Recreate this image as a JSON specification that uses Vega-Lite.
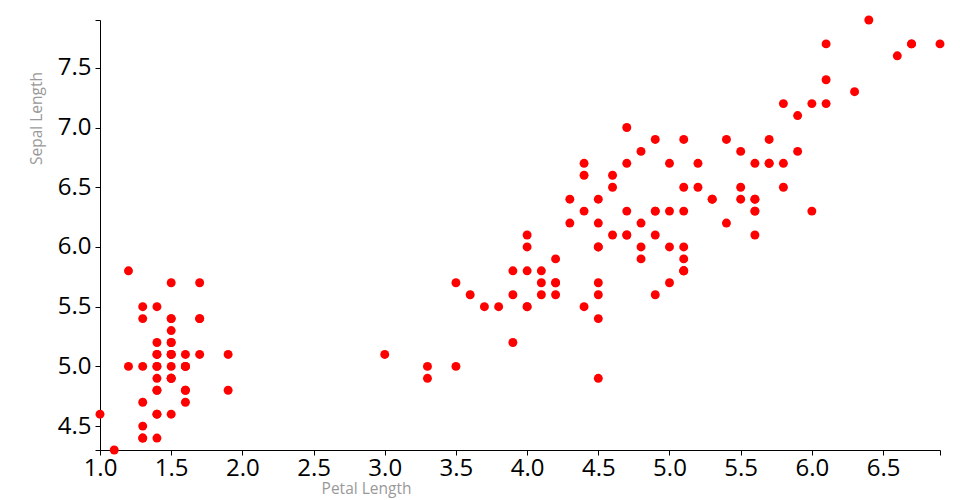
{
  "$schema": "https://vega.github.io/schema/vega-lite/v6.json",
  "width": 840,
  "height": 430,
  "autosize": "none",
  "padding": {"left": 100, "top": 20, "right": 20, "bottom": 50},
  "background": "white",
  "config": {"view": {"stroke": null}, "font": "Open Sans"},
  "data": {"values": [
    {"sl":5.1,"pl":1.4},{"sl":4.9,"pl":1.4},{"sl":4.7,"pl":1.3},{"sl":4.6,"pl":1.5},{"sl":5.0,"pl":1.4},
    {"sl":5.4,"pl":1.7},{"sl":4.6,"pl":1.4},{"sl":5.0,"pl":1.5},{"sl":4.4,"pl":1.4},{"sl":4.9,"pl":1.5},
    {"sl":5.4,"pl":1.5},{"sl":4.8,"pl":1.6},{"sl":4.8,"pl":1.4},{"sl":4.3,"pl":1.1},{"sl":5.8,"pl":1.2},
    {"sl":5.7,"pl":1.5},{"sl":5.4,"pl":1.3},{"sl":5.1,"pl":1.4},{"sl":5.7,"pl":1.7},{"sl":5.1,"pl":1.5},
    {"sl":5.4,"pl":1.7},{"sl":5.1,"pl":1.5},{"sl":4.6,"pl":1.0},{"sl":5.1,"pl":1.7},{"sl":4.8,"pl":1.9},
    {"sl":5.0,"pl":1.6},{"sl":5.0,"pl":1.6},{"sl":5.2,"pl":1.5},{"sl":5.2,"pl":1.4},{"sl":4.7,"pl":1.6},
    {"sl":4.8,"pl":1.6},{"sl":5.4,"pl":1.5},{"sl":5.2,"pl":1.5},{"sl":5.5,"pl":1.4},{"sl":4.9,"pl":1.5},
    {"sl":5.0,"pl":1.2},{"sl":5.5,"pl":1.3},{"sl":4.9,"pl":1.5},{"sl":4.4,"pl":1.3},{"sl":5.1,"pl":1.5},
    {"sl":5.0,"pl":1.3},{"sl":4.5,"pl":1.3},{"sl":4.4,"pl":1.3},{"sl":5.0,"pl":1.6},{"sl":5.1,"pl":1.9},
    {"sl":4.8,"pl":1.4},{"sl":5.1,"pl":1.6},{"sl":4.6,"pl":1.4},{"sl":5.3,"pl":1.5},{"sl":5.0,"pl":1.4},
    {"sl":7.0,"pl":4.7},{"sl":6.4,"pl":4.5},{"sl":6.9,"pl":4.9},{"sl":5.5,"pl":4.0},{"sl":6.5,"pl":4.6},
    {"sl":5.7,"pl":4.5},{"sl":6.3,"pl":4.7},{"sl":4.9,"pl":3.3},{"sl":6.6,"pl":4.6},{"sl":5.2,"pl":3.9},
    {"sl":5.0,"pl":3.5},{"sl":5.9,"pl":4.2},{"sl":6.0,"pl":4.0},{"sl":6.1,"pl":4.7},{"sl":5.6,"pl":3.6},
    {"sl":6.7,"pl":4.4},{"sl":5.6,"pl":4.5},{"sl":5.8,"pl":4.1},{"sl":6.2,"pl":4.5},{"sl":5.6,"pl":3.9},
    {"sl":5.9,"pl":4.8},{"sl":6.1,"pl":4.0},{"sl":6.3,"pl":4.9},{"sl":6.1,"pl":4.7},{"sl":6.4,"pl":4.3},
    {"sl":6.6,"pl":4.4},{"sl":6.8,"pl":4.8},{"sl":6.7,"pl":5.0},{"sl":6.0,"pl":4.5},{"sl":5.7,"pl":3.5},
    {"sl":5.5,"pl":3.8},{"sl":5.5,"pl":3.7},{"sl":5.8,"pl":3.9},{"sl":6.0,"pl":5.1},{"sl":5.4,"pl":4.5},
    {"sl":6.0,"pl":4.5},{"sl":6.7,"pl":4.7},{"sl":6.3,"pl":4.4},{"sl":5.6,"pl":4.1},{"sl":5.5,"pl":4.0},
    {"sl":5.5,"pl":4.4},{"sl":6.1,"pl":4.6},{"sl":5.8,"pl":4.0},{"sl":5.0,"pl":3.3},{"sl":5.6,"pl":4.2},
    {"sl":5.7,"pl":4.2},{"sl":5.7,"pl":4.2},{"sl":6.2,"pl":4.3},{"sl":5.1,"pl":3.0},{"sl":5.7,"pl":4.1},
    {"sl":6.3,"pl":6.0},{"sl":5.8,"pl":5.1},{"sl":7.1,"pl":5.9},{"sl":6.3,"pl":5.6},{"sl":6.5,"pl":5.8},
    {"sl":7.6,"pl":6.6},{"sl":4.9,"pl":4.5},{"sl":7.3,"pl":6.3},{"sl":6.7,"pl":5.8},{"sl":7.2,"pl":6.1},
    {"sl":6.5,"pl":5.1},{"sl":6.4,"pl":5.3},{"sl":6.8,"pl":5.5},{"sl":5.7,"pl":5.0},{"sl":5.8,"pl":5.1},
    {"sl":6.4,"pl":5.3},{"sl":6.5,"pl":5.5},{"sl":7.7,"pl":6.7},{"sl":7.7,"pl":6.9},{"sl":6.0,"pl":5.0},
    {"sl":6.9,"pl":5.7},{"sl":5.6,"pl":4.9},{"sl":7.7,"pl":6.7},{"sl":6.3,"pl":4.9},{"sl":6.7,"pl":5.7},
    {"sl":7.2,"pl":6.0},{"sl":6.2,"pl":4.8},{"sl":6.1,"pl":4.9},{"sl":6.4,"pl":5.6},{"sl":7.2,"pl":5.8},
    {"sl":7.4,"pl":6.1},{"sl":7.9,"pl":6.4},{"sl":6.4,"pl":5.6},{"sl":6.3,"pl":5.1},{"sl":6.1,"pl":5.6},
    {"sl":7.7,"pl":6.1},{"sl":6.3,"pl":5.6},{"sl":6.4,"pl":5.5},{"sl":6.0,"pl":4.8},{"sl":6.9,"pl":5.4},
    {"sl":6.7,"pl":5.6},{"sl":6.9,"pl":5.1},{"sl":5.8,"pl":5.1},{"sl":6.8,"pl":5.9},{"sl":6.7,"pl":5.7},
    {"sl":6.7,"pl":5.2},{"sl":6.3,"pl":5.0},{"sl":6.5,"pl":5.2},{"sl":6.2,"pl":5.4},{"sl":5.9,"pl":5.1}
  ]},
  "mark": {"type": "circle", "color": "#ff0000", "opacity": 1, "size": 80},
  "encoding": {
    "x": {
      "field": "pl", "type": "quantitative",
      "scale": {"domain": [1.0, 6.9], "nice": false, "zero": false},
      "axis": {
        "title": "Petal Length",
        "values": [1.0, 1.5, 2.0, 2.5, 3.0, 3.5, 4.0, 4.5, 5.0, 5.5, 6.0, 6.5, 6.9],
        "labelExpr": "datum.value > 6.8 ? '' : format(datum.value, '.1f')",
        "labelFlush": false, "labelOverlap": false, "labelBound": false,
        "grid": false,
        "domainColor": "#000", "tickColor": "#000", "tickSize": 5,
        "labelColor": "#000", "labelFontSize": 24, "labelPadding": 1, "labelFont": "Open Sans",
        "titleColor": "#999", "titleFontSize": 15.5, "titleFontWeight": "normal", "titleFont": "Open Sans",
        "titleAlign": "center", "titleAnchor": null, "titleX": 266, "titleY": 43, "titleBaseline": "alphabetic"
      }
    },
    "y": {
      "field": "sl", "type": "quantitative",
      "scale": {"domain": [4.3, 7.9], "nice": false, "zero": false},
      "axis": {
        "title": "Sepal Length",
        "values": [4.3, 4.5, 5.0, 5.5, 6.0, 6.5, 7.0, 7.5, 7.9],
        "labelExpr": "(datum.value < 4.4 || datum.value > 7.8) ? '' : format(datum.value, '.1f')",
        "labelFlush": false, "labelOverlap": false, "labelBound": false,
        "grid": false,
        "domainColor": "#000", "tickColor": "#000", "tickSize": 5,
        "labelColor": "#000", "labelFontSize": 24, "labelPadding": 4, "labelFont": "Open Sans",
        "titleColor": "#999", "titleFontSize": 15.5, "titleFontWeight": "normal", "titleFont": "Open Sans",
        "titleAngle": -90, "titleAlign": "center", "titleAnchor": null, "titleX": -59, "titleY": 98, "titleBaseline": "alphabetic"
      }
    }
  }
}
